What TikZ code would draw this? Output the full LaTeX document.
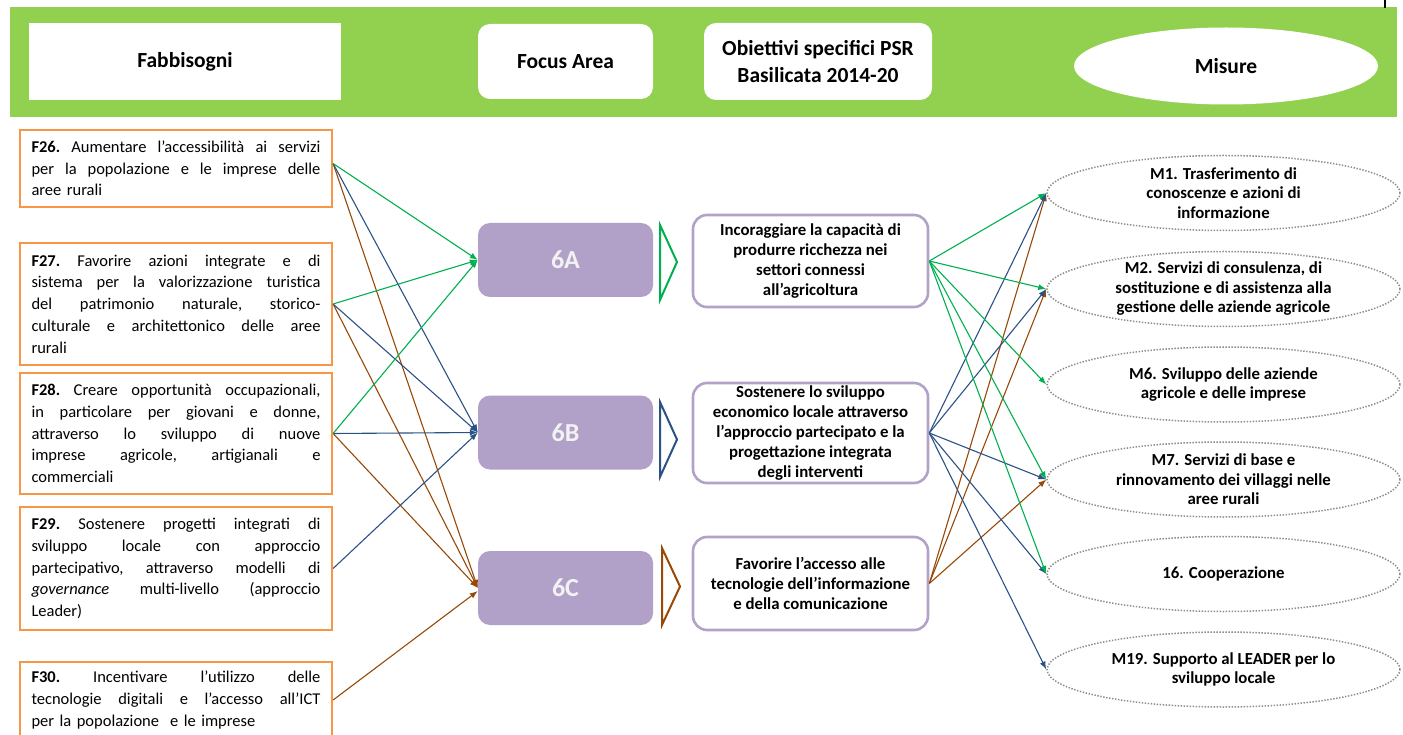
\documentclass[tikz,border=0pt]{standalone}
\usepackage{fontspec}
\setmainfont{Carlito}
\usetikzlibrary{arrows.meta,shapes.geometric}
\definecolor{band}{HTML}{92D050}
\definecolor{forange}{HTML}{F79646}
\definecolor{fapurple}{HTML}{B1A0C7}
\definecolor{objpurple}{HTML}{B3A2C7}
\definecolor{cgreen}{HTML}{00B050}
\definecolor{cblue}{HTML}{2B5287}
\definecolor{cbrown}{HTML}{984807}
\definecolor{dotgray}{HTML}{8C8C8C}
\definecolor{fatext}{HTML}{F2F2F2}
\newcommand{\fjust}[1]{\leavevmode\hbox to 289pt{\frenchspacing\spaceskip=0.226em plus 1fil minus 0.12em\relax #1}}
\tikzset{
  hdrfont/.style={font=\fontsize{21.5}{27}\selectfont\bfseries, align=center},
  hdrbox/.style={fill=white, inner sep=0pt, hdrfont},
  fneed/.style={draw=forange, line width=2.2pt, fill=white, minimum width=312pt,
    text width=289pt, inner xsep=11.5pt, inner ysep=0pt, align=left,
    font=\fontsize{16.5}{21.7}\selectfont},
  fabox/.style={fill=fapurple, rounded corners=12pt, minimum width=175pt, minimum height=74pt,
    inner sep=0pt, text=fatext, font=\fontsize{26}{30}\selectfont\bfseries},
  objbox/.style={draw=objpurple, line width=2.6pt, fill=white, rounded corners=14pt,
    minimum width=235pt, inner sep=0pt, align=center,
    font=\fontsize{16.8}{20}\selectfont\bfseries},
  mell/.style={ellipse, draw=dotgray, line width=1.5pt, dash pattern=on 1.4pt off 1.6pt,
    fill=white, minimum width=353pt, minimum height=75pt, inner sep=0pt},
  mtext/.style={align=center, inner sep=0pt, font=\fontsize{16.8}{19.5}\selectfont\bfseries},
  conn/.style={line width=1.1pt, -{Latex[length=8pt,width=6pt]}},
  chev/.style={line width=2pt, fill=white, line join=miter}
}
\begin{document}
\begin{tikzpicture}[x=1pt,y=-1pt]
\useasboundingbox (0,0) rectangle (1403,735);
% header band
\fill[band] (10,7) rectangle (1397,117);
\draw[line width=1.5pt] (1385,0) -- (1385,8);
\node[hdrbox, minimum width=312pt, minimum height=77pt] (hfab) at (185,61.5) {Fabbisogni};
\node[hdrbox, rounded corners=12pt, minimum width=175pt, minimum height=75pt] (hfa) at (565.5,61.5) {Focus Area};
\node[hdrbox, rounded corners=12pt, minimum width=228pt, minimum height=77pt] (hobj) at (818,61.5) {Obiettivi specifici PSR\\Basilicata 2014-20};
\node[hdrbox, ellipse, minimum width=304pt, minimum height=77pt] (hmis) at (1226,66) {Misure};

% needs
\node[fneed, minimum height=77pt] (f26) at (176,168.5) {\fjust{\textbf{F26.} Aumentare l’accessibilità ai servizi}\\\fjust{per la popolazione e le imprese delle}\\aree rurali};
\node[fneed, minimum height=122pt] (f27) at (176,304) {\fjust{\textbf{F27.} Favorire azioni integrate e di}\\\fjust{sistema per la valorizzazione turistica}\\\fjust{del patrimonio naturale, storico-}\\\fjust{culturale e architettonico delle aree}\\rurali};
\node[fneed, minimum height=121pt] (f28) at (176,433.5) {\fjust{\textbf{F28.} Creare opportunità occupazionali,}\\\fjust{in particolare per giovani e donne,}\\\fjust{attraverso lo sviluppo di nuove}\\\fjust{imprese agricole, artigianali e}\\commerciali};
\node[fneed, minimum height=123pt] (f29) at (176,568.5) {\fjust{\textbf{F29.} Sostenere progetti integrati di}\\\fjust{sviluppo locale con approccio}\\\fjust{partecipativo, attraverso modelli di}\\\fjust{\textit{governance} multi-livello (approccio}\\Leader)};
\node[fneed, minimum height=76pt] (f30) at (176,700) {\fjust{\textbf{F30.} Incentivare l’utilizzo delle}\\\fjust{tecnologie digitali e l’accesso all’ICT}\\per la popolazione \ e le imprese};

% focus areas
\node[fabox] (fa6a) at (565.5,260) {6A};
\node[fabox] (fa6b) at (565.5,432.5) {6B};
\node[fabox] (fa6c) at (565.5,588) {6C};

% chevrons
\draw[chev, draw=cgreen] (660,225) -- (677,262) -- (660,300) -- cycle;
\draw[chev, draw=cblue] (660,402) -- (677,439.5) -- (660,477) -- cycle;
\draw[chev, draw=cbrown] (662,548) -- (680,586.5) -- (662,625) -- cycle;

% objectives
\node[objbox, minimum height=92pt] (ob6a) at (810.5,261) {Incoraggiare la capacità di\\produrre ricchezza nei\\settori connessi\\all’agricoltura};
\node[objbox, minimum height=100pt] (ob6b) at (810.5,433) {Sostenere lo sviluppo\\economico locale attraverso\\l’approccio partecipato e la\\progettazione integrata\\degli interventi};
\node[objbox, minimum height=93pt] (ob6c) at (810.5,583.5) {Favorire l’accesso alle\\tecnologie dell’informazione\\e della comunicazione};

% measures
\node[mell] (m1) at (1223.5,193) {};
\node[mtext] (m1t) at (m1) {M1. Trasferimento di\\conoscenze e azioni di\\informazione};
\node[mell] (m2) at (1223.5,289) {};
\node[mtext] (m2t) at (m2) {M2. Servizi di consulenza, di\\sostituzione e di assistenza alla\\gestione delle aziende agricole};
\node[mell] (m6) at (1223.5,384.5) {};
\node[mtext] (m6t) at (m6) {M6. Sviluppo delle aziende\\agricole e delle imprese};
\node[mell] (m7) at (1223.5,479.5) {};
\node[mtext] (m7t) at (m7) {M7. Servizi di base e\\rinnovamento dei villaggi nelle\\aree rurali};
\node[mell] (m16) at (1223.5,574) {};
\node[mtext] (m16t) at (m16) {16. Cooperazione};
\node[mell] (m19) at (1223.5,669.5) {};
\node[mtext] (m19t) at (m19) {M19. Supporto al LEADER per lo\\sviluppo locale};

% left connectors
\draw[conn, cbrown] ([yshift=5pt]f26.east) -- (fa6c.west);
\draw[conn, cbrown] (f27.east) -- (fa6c.west);
\draw[conn, cbrown] (f28.east) -- (fa6c.west);
\draw[conn, cbrown] (f30.east) -- ([yshift=-3pt]fa6c.west);
\draw[conn, cblue] ([yshift=5pt]f26.east) -- (fa6b.west);
\draw[conn, cblue] (f27.east) -- (fa6b.west);
\draw[conn, cblue] (f28.east) -- (fa6b.west);
\draw[conn, cblue] (f29.east) -- (fa6b.west);
\draw[conn, cgreen] ([yshift=5pt]f26.east) -- (fa6a.west);
\draw[conn, cgreen] (f27.east) -- (fa6a.west);
\draw[conn, cgreen] (f28.east) -- (fa6a.west);

% right connectors
\draw[conn, cbrown] (ob6c.east) -- (m1.west);
\draw[conn, cbrown] (ob6c.east) -- (m2.west);
\draw[conn, cbrown] (ob6c.east) -- (m7.west);
\draw[conn, cblue] (ob6b.east) -- (m1.west);
\draw[conn, cblue] (ob6b.east) -- (m2.west);
\draw[conn, cblue] (ob6b.east) -- (m7.west);
\draw[conn, cblue] (ob6b.east) -- (m16.west);
\draw[conn, cblue] (ob6b.east) -- (m19.west);
\draw[conn, cgreen] (ob6a.east) -- (m1.west);
\draw[conn, cgreen] (ob6a.east) -- (m2.west);
\draw[conn, cgreen] (ob6a.east) -- (m6.west);
\draw[conn, cgreen] (ob6a.east) -- (m7.west);
\draw[conn, cgreen] (ob6a.east) -- (m16.west);
\end{tikzpicture}
\end{document}
